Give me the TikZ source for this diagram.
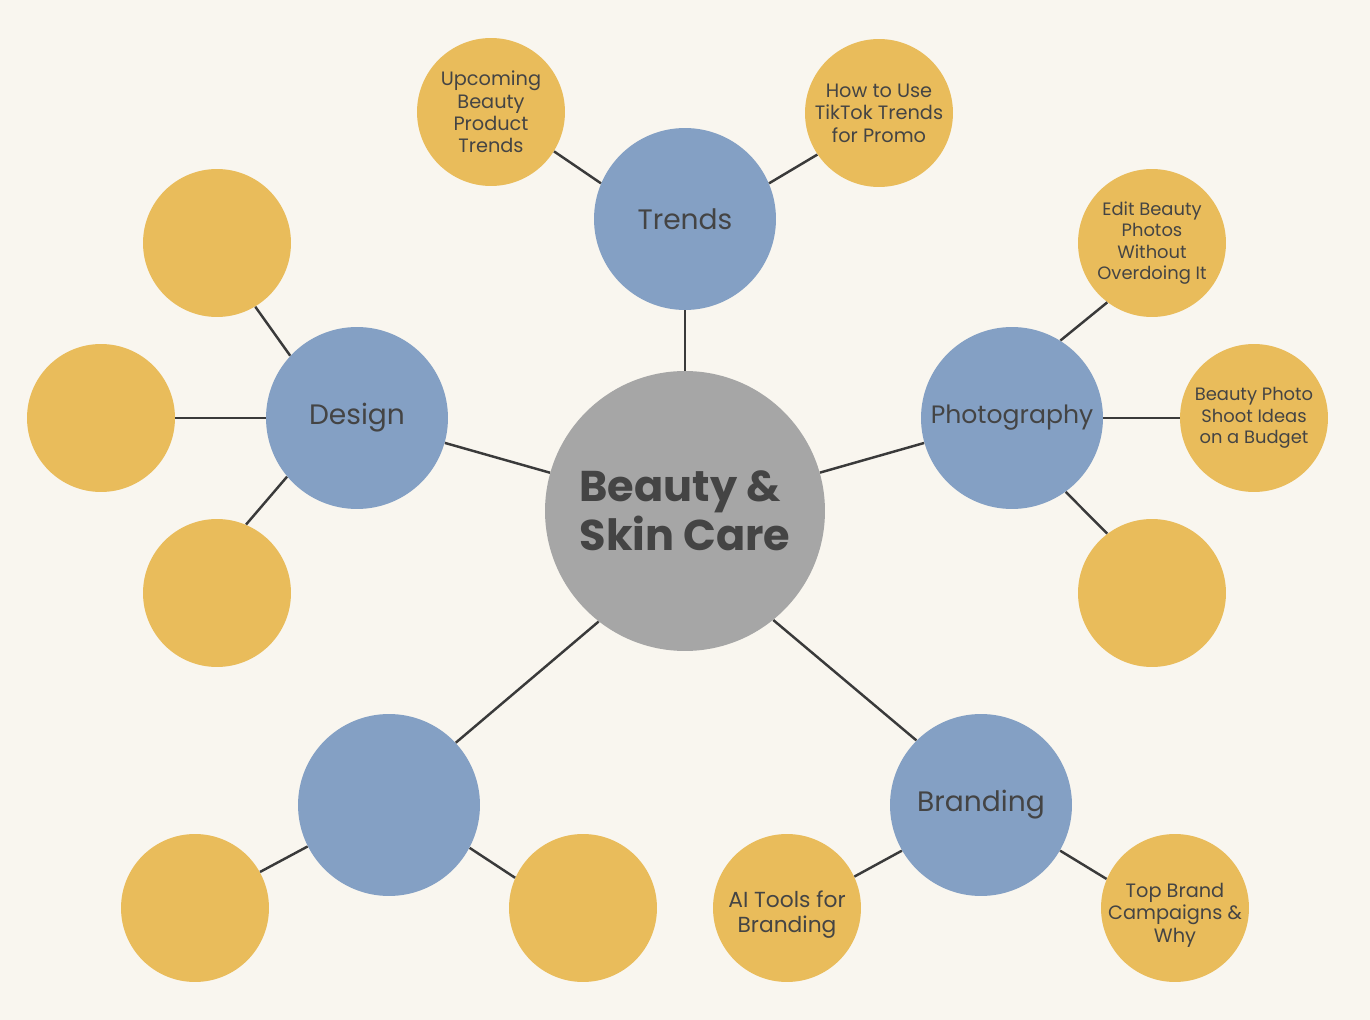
\documentclass[tikz,border=0pt]{standalone}
\usepackage{fontspec}
\setmainfont{Poppins}
\definecolor{paper}{HTML}{F9F6EF}
\definecolor{topicblue}{HTML}{84A0C4}
\definecolor{ideagold}{HTML}{E9BC5B}
\definecolor{hubgray}{HTML}{A6A6A6}
\definecolor{ink}{HTML}{444444}
\definecolor{wire}{HTML}{3A3A3A}
\begin{document}
\begin{tikzpicture}[
  x=0.02cm, y=-0.02cm,
  hub/.style={circle, fill=hubgray, minimum size=5.6cm, inner sep=0pt, align=left, text=ink, font=\fontsize{24.5}{28}\selectfont\bfseries},
  topic/.style={circle, fill=topicblue, minimum size=3.64cm, inner sep=0pt, align=center, text=ink, font=\fontsize{16}{19}\selectfont},
  idea/.style={circle, fill=ideagold, minimum size=2.96cm, inner sep=0pt, align=center, text=ink, font=\fontsize{11}{12.8}\selectfont},
  link/.style={draw=wire, line width=1.4pt}
]
  \fill[paper] (0,0) rectangle (1370,1020);

  \node[hub] (hub) at (685,511) {Beauty \&\\Skin Care};
  \node[topic] (trends) at (685,219) {Trends};
  \node[topic] (design) at (357,418) {Design};
  \node[topic, font=\fontsize{14.3}{17}\selectfont] (photo) at (1012,418) {Photography};
  \node[topic] (blank) at (389,805) {};
  \node[topic] (branding) at (981,805) {Branding};

  \node[idea] (upcoming) at (491,112) {Upcoming\\Beauty\\Product\\Trends};
  \node[idea] (tiktok) at (879,113) {How to Use\\TikTok Trends\\for Promo};
  \node[idea, font=\fontsize{10.2}{12.2}\selectfont] (edit) at (1152,243) {Edit Beauty\\Photos\\Without\\Overdoing It};
  \node[idea, font=\fontsize{10.2}{12.2}\selectfont] (shoot) at (1254,418) {Beauty Photo\\Shoot Ideas\\on a Budget};
  \node[idea] (photoC) at (1152,593) {};
  \node[idea] (designA) at (217,243) {};
  \node[idea] (designB) at (101,418) {};
  \node[idea] (designC) at (217,593) {};
  \node[idea] (blankA) at (195,908) {};
  \node[idea] (blankB) at (583,908) {};
  \node[idea, font=\fontsize{12.4}{14.2}\selectfont] (aitools) at (787,908) {\rule{0pt}{17pt}AI Tools for\\Branding};
  \node[idea, inner sep=-10pt] (campaigns) at (1175,908) {\rule{0pt}{16pt}Top Brand\\Campaigns \&\\Why};

  % hub to topics
  \draw[link] (hub) -- (trends);
  \draw[link] (hub) -- (design);
  \draw[link] (hub) -- (photo);
  \draw[link] (hub.232) -- (blank.43);
  \draw[link] (hub.309) -- (branding.135);
  % topics to ideas
  \draw[link] (trends.157) -- (upcoming.328);
  \draw[link] (trends.23) -- (tiktok.214);
  \draw[link] (photo.58) -- (edit.233);
  \draw[link] (photo) -- (shoot);
  \draw[link] (photo.306) -- (photoC.127);
  \draw[link] (design.137) -- (designA.301);
  \draw[link] (design) -- (designB);
  \draw[link] (design.220) -- (designC.67);
  \draw[link] (blank.207) -- (blankA.29);
  \draw[link] (blank.332) -- (blankB.156);
  \draw[link] (branding.210) -- (aitools.25);
  \draw[link] (branding.330) -- (campaigns.157);
\end{tikzpicture}
\end{document}
